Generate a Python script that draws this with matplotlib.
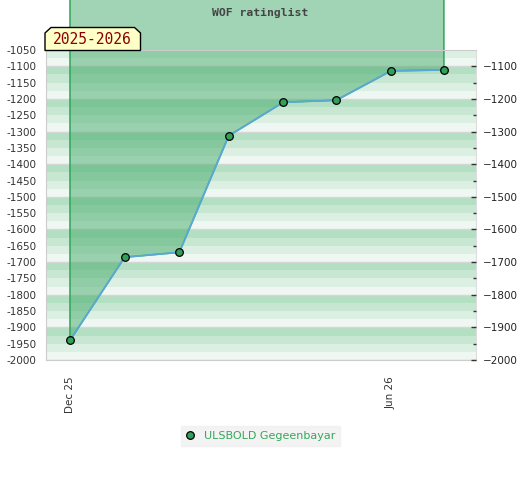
import datetime as dt
import matplotlib
matplotlib.use("Agg")
import matplotlib.pyplot as plt
import matplotlib.dates as mdates
from matplotlib.patches import Polygon

# data
months = ["2025-12-01", "2026-01-01", "2026-02-01", "2026-03-01",
          "2026-04-01", "2026-05-01", "2026-06-01", "2026-07-01"]
ratings = [-1940, -1685, -1670, -1313, -1210, -1204, -1114, -1111]
player = "ULSBOLD Gegeenbayar"
season = "2025-2026"
xtick_dates = ["2025-12-01", "2026-06-01"]
xtick_labels = ["Dec 25", "Jun 26"]

W, H = 520, 480
dates = [dt.datetime.strptime(m, "%Y-%m-%d") for m in months]

fig = plt.figure(figsize=(W / 100, H / 100), dpi=100)
ax = fig.add_axes([46 / W, 1 - 360 / H, (476 - 46) / W, (360 - 50) / H])

# striped background, 4 shades per 100 points
shades = ["#eef7f1", "#dcefe3", "#c8e7d2", "#b3dfc2"]
for b in range(-2000, -1000, 100):
    for i, c in enumerate(shades):
        ax.axhspan(b + 25 * i, b + 25 * (i + 1), color=c, lw=0, zorder=0)
    ax.axhline(b, color="#d6d6d6", lw=1, zorder=0.5)

# area drawn from the line upward (not clipped, runs into the title)
ax.fill_between(dates, ratings, 0, facecolor=(0.27, 0.665, 0.42, 0.5),
                edgecolor="#2ea558", lw=1.1, clip_on=False, zorder=1)
ax.plot(dates, ratings, color="#5ba8d8", lw=1.3, zorder=3)
ax.plot(dates, ratings, "o", ms=5.5, mfc="#33a05a", mec="black", mew=0.9,
        zorder=4, label=player)

d0 = mdates.date2num(dt.datetime(2025, 12, 1))
ax.set_xlim(d0 - 13.6, d0 + 182 + 48.2)
ax.set_ylim(-2000, -1050)

ax.set_xticks([dt.datetime.strptime(d, "%Y-%m-%d") for d in xtick_dates])
ax.set_xticklabels(xtick_labels, rotation=90, fontsize=7.5, color="#333333")
ax.tick_params(axis="x", length=0, pad=12)
ax.set_yticks(range(-2000, -1049, 50))
ax.set_yticklabels([str(v) for v in range(-2000, -1049, 50)],
                   fontsize=7.5, color="#333333")
ax.tick_params(axis="y", length=0, pad=7)
for s in ["left", "bottom", "top"]:
    ax.spines[s].set_color("#cccccc")
ax.spines["right"].set_color("#dddddd")

ax2 = ax.twinx()
ax2.set_ylim(-2000, -1050)
ax2.set_yticks(range(-2000, -1099, 100))
ax2.set_yticks(range(-1950, -1099, 100), minor=True)
ax2.tick_params(axis="y", which="major", direction="in", length=3.5,
                width=1, color="#333333", labelsize=7.5, labelcolor="#222222", pad=5)
ax2.tick_params(axis="y", which="minor", direction="in", length=2,
                width=1, color="#333333")
for s in ax2.spines.values():
    s.set_visible(False)

# title
fig.text(260 / W, 1 - 13 / H, "WOF ratinglist", ha="center", va="center",
         family="DejaVu Sans Mono", fontweight="bold", fontsize=8.2,
         color="#444444", zorder=10)

# season box with cut corners
def px(x, y):
    return (x / W, 1 - y / H)

box = Polygon([px(45, 50.5), px(45, 33), px(51, 27.5), px(134.5, 27.5),
               px(140.5, 33), px(140.5, 50.5)], closed=True,
              transform=fig.transFigure, facecolor="#ffffc8",
              edgecolor="black", lw=1, zorder=10)
fig.add_artist(box)
fig.text(92.5 / W, 1 - 40 / H, season, ha="center", va="center",
         family="DejaVu Sans Mono", fontsize=10.5, color="#8b0000", zorder=11)

leg = fig.legend(loc="center", bbox_to_anchor=(260.5 / W, 1 - 436 / H),
                 fontsize=8, frameon=True, fancybox=False, handlelength=0.8,
                 handletextpad=0.8, borderpad=0.45, borderaxespad=0)
leg.get_frame().set_facecolor("#f0f0f0")
leg.get_frame().set_edgecolor("#f0f0f0")
for t in leg.get_texts():
    t.set_color("#34a85a")

fig.savefig("out.png", dpi=100)
